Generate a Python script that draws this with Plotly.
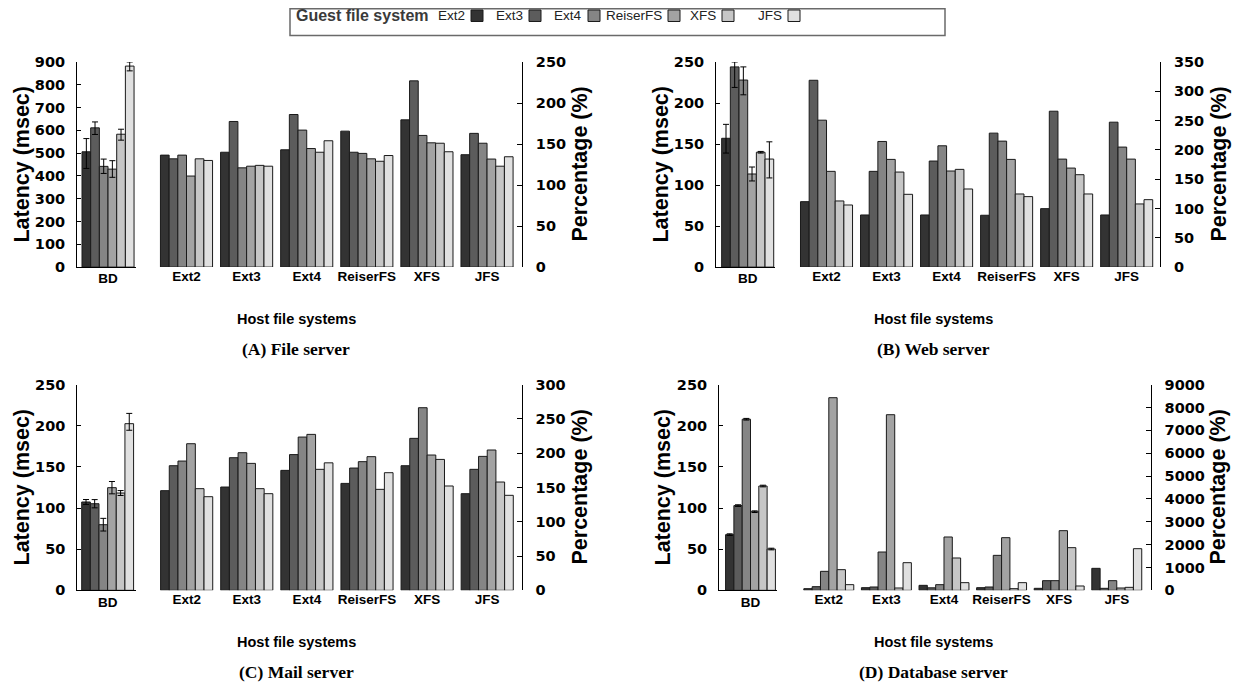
import plotly.graph_objects as go

# ---------------- data ----------------
guest_fs = ["Ext2", "Ext3", "Ext4", "ReiserFS", "XFS", "JFS"]
host_fs = ["Ext2", "Ext3", "Ext4", "ReiserFS", "XFS", "JFS"]
bd_label = ["BD"]

# (A) File server
file_bd = [506, 611, 442, 430, 583, 882]
file_bd_plus = [58, 26, 32, 37, 22, 18]
file_bd_minus = [73, 29, 31, 36, 26, 21]
file_host_pct = [  # rows: guest fs, cols: host fs
    [136.5, 140, 143, 165.7, 179.5, 137],
    [132, 177.5, 186, 140, 227, 163],
    [136.5, 121, 167, 138.6, 160.5, 151],
    [111, 123, 144.5, 132, 151.5, 131.7],
    [132, 124, 140, 129, 151, 123],
    [130, 123, 154, 136, 140.6, 134.5],
]

# (B) Web server
web_bd = [157, 244, 228, 113.5, 140, 131.7]
web_bd_plus = [17, 6, 16, 8.5, 1, 21]
web_bd_minus = [18, 25, 18, 8.5, 1, 23]
web_host_pct = [
    [111.7, 89, 89, 88.5, 99.8, 89],
    [318.8, 163.4, 181, 228.6, 266, 247.3],
    [250.7, 214.4, 207, 215, 184.3, 204.8],
    [163.4, 183.8, 164, 183.8, 169, 184.3],
    [112.9, 162.2, 166.8, 124.8, 157.7, 107.8],
    [106, 124.2, 133.3, 120.3, 124.8, 115.1],
]

# (C) Mail server
mail_bd = [107.4, 105.3, 79.8, 124.8, 118.3, 202.6]
mail_bd_plus = [3, 5, 7.7, 7.5, 3, 12.5]
mail_bd_minus = [3, 5, 7.7, 7.5, 3, 8]
mail_host_pct = [
    [145.4, 150.7, 175, 156, 181.8, 141],
    [181.8, 193.5, 198, 178.4, 221.7, 176.5],
    [188.6, 200.8, 223.6, 187.7, 266.4, 195.4],
    [213.9, 185.2, 227.5, 195, 197.4, 204.7],
    [148.3, 148.3, 176.5, 147.3, 191, 158],
    [136.6, 141, 186, 171.6, 152.2, 138.6],
]

# (D) Database server
db_bd = [67.7, 103, 208, 95.6, 126.8, 50.2]
db_bd_plus = [1, 1, 1, 1, 1, 1]
db_bd_minus = [1, 1, 1, 1, 1, 1]
db_host_pct = [
    [73, 117, 219, 117, 88, 963],
    [160, 146, 110, 146, 423, 88],
    [831, 1677, 248, 1531, 423, 423],
    [8431, 7687, 2334, 2305, 2611, 102],
    [904, 102, 1415, 73, 1867, 131],
    [248, 1210, 335, 335, 190, 1823],
]

captions = ["(A) File server", "(B) Web server", "(C) Mail server", "(D) Database server"]
left_ranges = [[0, 900], [0, 250], [0, 250], [0, 250]]
left_dticks = [100, 50, 50, 50]
right_ranges = [[0, 250], [0, 350], [0, 300], [0, 9000]]
right_dticks = [50, 50, 50, 1000]

colors = ["#333333", "#5c5c5c", "#858585", "#a3a3a3", "#c6c6c6", "#e0e0e0"]

# ---------------- layout geometry (target pixels) ----------------
W, H = 1240, 687
Y0, YS = 7.5, 0.977   # observed vertical mapping of the capture


def fx(p):
    return p / W


def fy(p):
    return 1 - ((p - Y0) / YS) / H


geo = [
    dict(left=77, bd_end=136, bd_range=[-0.517, 0.466], hs=156.45, he=521.9, hr=[-0.5, 5.58],
         top=61.5, bot=266.7, lt_x=22, rt_x=580, cx=296, host_y=319, cap_y=349),
    dict(left=716, bd_end=775, bd_range=[-0.528, 0.455], hs=796.5, he=1160, hr=[-0.5, 5.555],
         top=61.5, bot=266.7, lt_x=661, rt_x=1219, cx=934, host_y=319, cap_y=349),
    dict(left=77.3, bd_end=136, bd_range=[-0.507, 0.474], hs=156.6, he=521.5, hr=[-0.5, 5.57],
         top=384.3, bot=590, lt_x=22, rt_x=580, cx=296, host_y=642, cap_y=672),
    dict(left=719, bd_end=777, bd_range=[-0.548, 0.461], hs=800, he=1150.7, hr=[-0.5, 5.589],
         top=384.3, bot=590, lt_x=663, rt_x=1218, cx=934, host_y=642, cap_y=672),
]

panels = [
    (file_bd, file_bd_plus, file_bd_minus, file_host_pct),
    (web_bd, web_bd_plus, web_bd_minus, web_host_pct),
    (mail_bd, mail_bd_plus, mail_bd_minus, mail_host_pct),
    (db_bd, db_bd_plus, db_bd_minus, db_host_pct),
]

NUM_FONT = dict(family="DejaVu Sans", size=14.5, color="black", weight="bold")
CAT_FONT = dict(family="Liberation Sans", size=13.5, color="black", weight="bold")
TITLE_FONT = dict(family="Liberation Sans", size=21.5, color="black", weight="bold")
CAP_FONT = dict(family="Liberation Serif", size=17.5, color="black", weight="bold")

fig = go.Figure()
annotations = []
shapes = []
layout_axes = {}

for p, ((bd, plus, minus, host), g) in enumerate(zip(panels, geo)):
    xa, xb = 2 * p + 1, 2 * p + 2
    xa_name = "x" if xa == 1 else f"x{xa}"
    xb_name = f"x{xb}"
    ya_name = "y" if xa == 1 else f"y{xa}"
    yb_name = f"y{xb}"
    for i, gname in enumerate(guest_fs):
        fig.add_trace(go.Bar(
            x=bd_label, y=[bd[i]], name=gname, xaxis=xa_name, yaxis=ya_name,
            marker=dict(color=colors[i], line=dict(color="#1a1a1a", width=1)),
            error_y=dict(type="data", symmetric=False, array=[plus[i]], arrayminus=[minus[i]],
                         color="black", thickness=1, width=3),
            showlegend=False,
        ))
    for i, gname in enumerate(guest_fs):
        fig.add_trace(go.Bar(
            x=host_fs, y=host[i], name=gname, xaxis=xb_name, yaxis=yb_name,
            marker=dict(color=colors[i], line=dict(color="#1a1a1a", width=1)),
            showlegend=False,
        ))
    ydom = [fy(g["bot"]), fy(g["top"])]
    xkey_a = "xaxis" if xa == 1 else f"xaxis{xa}"
    ykey_a = "yaxis" if xa == 1 else f"yaxis{xa}"
    layout_axes[xkey_a] = dict(
        domain=[fx(g["left"]), fx(g["bd_end"])], anchor=ya_name, range=g["bd_range"],
        showline=True, linecolor="black", linewidth=1, ticks="", showgrid=False,
        zeroline=False, tickfont=CAT_FONT, ticklabelstandoff=-1, fixedrange=True,
    )
    layout_axes[f"xaxis{xb}"] = dict(
        domain=[fx(g["hs"]), fx(g["he"])], anchor=yb_name, range=g["hr"],
        showline=False, ticks="", showgrid=False, zeroline=False,
        tickfont=CAT_FONT, ticklabelstandoff=-1, fixedrange=True,
    )
    layout_axes[ykey_a] = dict(
        domain=ydom, anchor=xa_name, range=left_ranges[p], dtick=left_dticks[p], tick0=0,
        showline=True, linecolor="black", linewidth=1, ticks="inside", ticklen=4,
        tickcolor="black", showgrid=False, zeroline=False, tickfont=NUM_FONT,
        ticklabelstandoff=8, fixedrange=True,
    )
    layout_axes[f"yaxis{xb}"] = dict(
        domain=ydom, anchor=xb_name, side="right", range=right_ranges[p],
        dtick=right_dticks[p], tick0=0,
        showline=True, linecolor="black", linewidth=1, ticks="inside", ticklen=5,
        tickcolor="black", showgrid=False, zeroline=False, tickfont=NUM_FONT,
        ticklabelstandoff=10, fixedrange=True,
    )
    ymid = (g["top"] + g["bot"]) / 2
    annotations += [
        dict(text="Latency (msec)", x=fx(g["lt_x"]), y=fy(ymid), xref="paper", yref="paper",
             textangle=-90, showarrow=False, font=TITLE_FONT, xanchor="center", yanchor="middle"),
        dict(text="Percentage (%)", x=fx(g["rt_x"]), y=fy(ymid), xref="paper", yref="paper",
             textangle=-90, showarrow=False, font=TITLE_FONT, xanchor="center", yanchor="middle"),
        dict(text="Host file systems", x=fx(g["cx"]), y=fy(g["host_y"]), xref="paper", yref="paper",
             showarrow=False, font=dict(family="Liberation Sans", size=14.5, color="black", weight="bold"),
             xanchor="center", yanchor="middle"),
        dict(text=captions[p], x=fx(g["cx"]), y=fy(g["cap_y"]), xref="paper", yref="paper",
             showarrow=False, font=CAP_FONT, xanchor="center", yanchor="middle"),
    ]

# ---------------- legend (drawn manually: label then swatch) ----------------
shapes.append(dict(type="rect", xref="paper", yref="paper", x0=fx(290), x1=fx(945), y0=fy(35), y1=0.999,
                   line=dict(color="#6a6a6a", width=1.5), fillcolor="white", layer="below"))
annotations.append(dict(text="Guest file system", x=fx(294), y=fy(15), xref="paper", yref="paper",
                        showarrow=False, xanchor="left", yanchor="middle",
                        font=dict(family="Liberation Sans", size=16, color="#3a3a3a", weight="bold")))
legend_text_right = [467, 525, 584, 664, 718, 784]
for i, gname in enumerate(guest_fs):
    tr = legend_text_right[i]
    annotations.append(dict(text=gname, x=fx(tr), y=fy(15), xref="paper", yref="paper",
                            showarrow=False, xanchor="right", yanchor="middle",
                            font=dict(family="Liberation Sans", size=13.5, color="#222222")))
    shapes.append(dict(type="rect", xref="paper", yref="paper", x0=fx(tr + 4), x1=fx(tr + 16),
                       y0=fy(21), y1=fy(9.5), line=dict(color="#1a1a1a", width=1), fillcolor=colors[i]))

fig.update_layout(
    width=W, height=H, margin=dict(l=0, r=0, t=0, b=0), autosize=False,
    paper_bgcolor="white", plot_bgcolor="white",
    barmode="group", bargap=0.133, bargroupgap=0,
    showlegend=False, annotations=annotations, shapes=shapes,
    **layout_axes,
)

fig.write_html("out.html", config={"displayModeBar": False},
               post_script="document.body.style.margin='0px';")
